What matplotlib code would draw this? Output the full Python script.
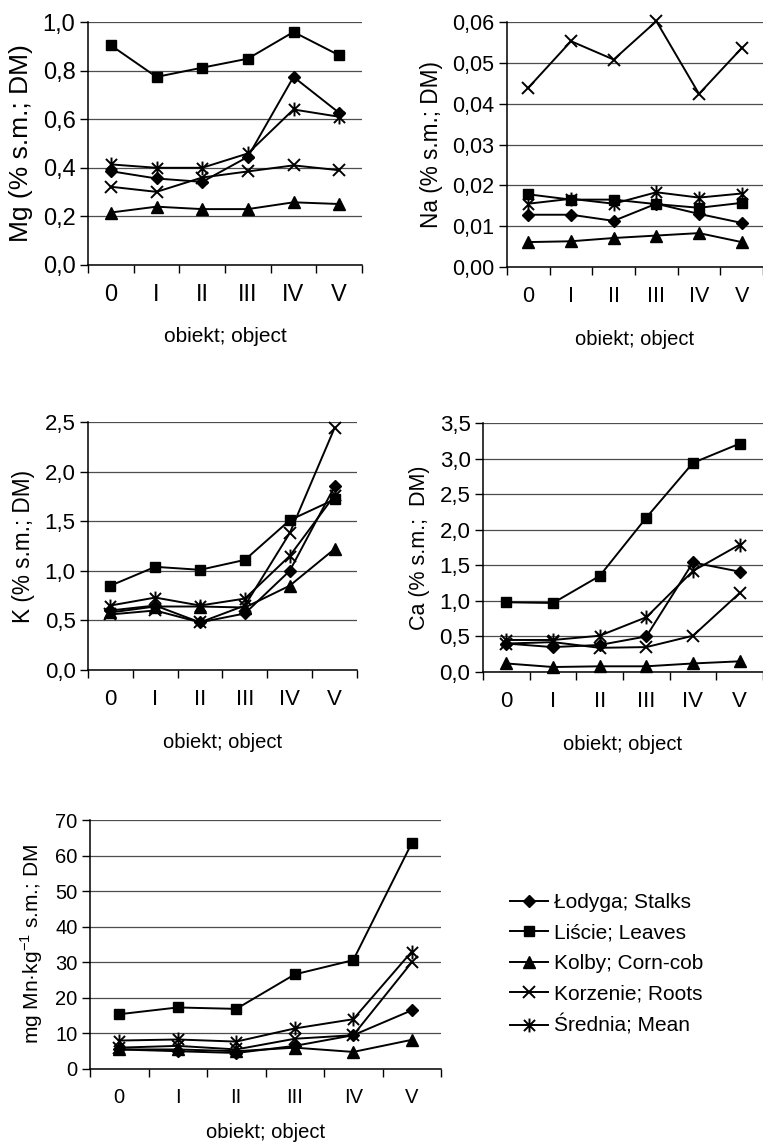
import numpy as np
import matplotlib
matplotlib.use("Agg")
import matplotlib.pyplot as plt
from matplotlib.path import Path
from matplotlib.ticker import FuncFormatter

plt.rcParams["font.family"] = ["Liberation Sans", "DejaVu Sans"]
plt.rcParams["mathtext.fontset"] = "custom"
plt.rcParams["mathtext.rm"] = "Liberation Sans"

objects = ["0", "I", "II", "III", "IV", "V"]
names = ["Łodyga; Stalks", "Liście; Leaves", "Kolby; Corn-cob",
         "Korzenie; Roots", "Średnia; Mean"]

# Mg, % DM
mg_stalks = [0.386, 0.356, 0.342, 0.445, 0.774, 0.626]
mg_leaves = [0.904, 0.774, 0.812, 0.849, 0.959, 0.863]
mg_cob = [0.216, 0.240, 0.230, 0.230, 0.258, 0.251]
mg_roots = [0.322, 0.301, 0.360, 0.385, 0.410, 0.390]
mg_mean = [0.414, 0.400, 0.400, 0.459, 0.640, 0.610]

# Na, % DM
na_stalks = [0.0128, 0.0128, 0.0113, 0.0155, 0.0130, 0.0108]
na_leaves = [0.0178, 0.0165, 0.0165, 0.0154, 0.0145, 0.0157]
na_cob = [0.0061, 0.0063, 0.0071, 0.0077, 0.0083, 0.0061]
na_roots = [0.0439, 0.0553, 0.0508, 0.0602, 0.0424, 0.0536]
na_mean = [0.0155, 0.0167, 0.0155, 0.0183, 0.0170, 0.0180]

# K, % DM
k_stalks = [0.60, 0.65, 0.48, 0.57, 1.00, 1.85]
k_leaves = [0.85, 1.04, 1.01, 1.11, 1.51, 1.72]
k_cob = [0.58, 0.64, 0.64, 0.63, 0.85, 1.22]
k_roots = [0.56, 0.60, 0.48, 0.65, 1.38, 2.44]
k_mean = [0.65, 0.73, 0.65, 0.72, 1.15, 1.76]

# Ca, % DM
ca_stalks = [0.40, 0.35, 0.38, 0.50, 1.54, 1.41]
ca_leaves = [0.98, 0.97, 1.35, 2.17, 2.94, 3.21]
ca_cob = [0.12, 0.07, 0.08, 0.08, 0.12, 0.15]
ca_roots = [0.40, 0.42, 0.34, 0.35, 0.51, 1.11]
ca_mean = [0.45, 0.45, 0.51, 0.77, 1.42, 1.79]

# Mn, mg/kg DM
mn_stalks = [5.5, 5.0, 4.5, 6.5, 9.5, 16.5]
mn_leaves = [15.4, 17.3, 16.9, 26.6, 30.6, 63.5]
mn_cob = [5.5, 5.5, 5.0, 6.0, 4.8, 8.2]
mn_roots = [6.0, 6.5, 5.5, 8.5, 9.5, 30.0]
mn_mean = [8.0, 8.3, 7.7, 11.4, 14.0, 33.0]

# Excel-like asterisk: X with a vertical bar
asterisk = Path([(0, -1), (0, 1), (-0.8, -0.8), (0.8, 0.8), (-0.8, 0.8), (0.8, -0.8)],
                [Path.MOVETO, Path.LINETO] * 3)
styles = [dict(marker="D", ms=6),
          dict(marker="s", ms=7.5),
          dict(marker="^", ms=8),
          dict(marker="x", ms=9, mew=1.4),
          dict(marker=asterisk, ms=10, mew=1.4)]

W, H = 763, 1146
fig = plt.figure(figsize=(W / 100, H / 100), dpi=100)


def box(left, right, top, bottom):
    return [left / W, 1 - bottom / H, (right - left) / W, (bottom - top) / H]


def panel(rect, series, ymax, step, decimals, ylabel, tsize, lsize,
          xsize=14.5, xpad=16):
    ax = fig.add_axes(rect)
    x = np.arange(len(objects))
    lines = []
    for vals, st, nm in zip(series, styles, names):
        ln, = ax.plot(x, vals, color="black", lw=1.4, mfc="black", mec="black",
                      clip_on=False, label=nm, **st)
        lines.append(ln)
    ax.set_xlim(-0.5, 5.5)
    ax.set_ylim(0, ymax)
    ax.set_yticks(np.arange(0, ymax + step / 2, step))
    ax.yaxis.set_major_formatter(FuncFormatter(
        lambda v, p: f"{v:.{decimals}f}".replace(".", ",")))
    ax.set_xticks(x)
    ax.set_xticklabels(objects)
    ax.set_xticks(np.arange(-0.5, 6, 1), minor=True)
    ax.tick_params(axis="x", which="major", length=0, pad=14, labelsize=tsize)
    ax.tick_params(axis="x", which="minor", length=6, width=1, direction="out")
    ax.tick_params(axis="y", length=6, width=1, pad=3, labelsize=tsize)
    ax.grid(axis="y", color="0.3", lw=0.9)
    ax.set_axisbelow(True)
    for s in ["top", "right"]:
        ax.spines[s].set_visible(False)
    ax.spines["left"].set_linewidth(1.1)
    ax.spines["bottom"].set_linewidth(1.1)
    ax.set_xlabel("obiekt; object", fontsize=xsize, labelpad=xpad)
    ax.set_ylabel(ylabel, fontsize=lsize, labelpad=7)
    return lines


panel(box(88, 362, 22, 265), [mg_stalks, mg_leaves, mg_cob, mg_roots, mg_mean],
      1.0, 0.2, 1, "Mg (% s.m.; DM)", 17, 19, 15, 15)
panel(box(507, 763, 22, 267), [na_stalks, na_leaves, na_cob, na_roots, na_mean],
      0.06, 0.01, 2, "Na (% s.m.; DM)", 15.5, 16.3)
panel(box(88, 357, 422, 670), [k_stalks, k_leaves, k_cob, k_roots, k_mean],
      2.5, 0.5, 1, "K (% s.m.; DM)", 16, 16.3)
panel(box(483, 763, 423, 672), [ca_stalks, ca_leaves, ca_cob, ca_roots, ca_mean],
      3.5, 0.5, 1, "Ca (% s.m.;  DM)", 16, 15.5)
handles = panel(box(90, 441, 820, 1069), [mn_stalks, mn_leaves, mn_cob, mn_roots, mn_mean],
                70, 10, 0, "mg Mn·kg$^{-1}$ s.m.; DM", 14.5, 15, 14.5, 11)

fig.legend(handles=handles, loc="upper left", bbox_to_anchor=(510 / W, 1 - 893 / H),
           frameon=False, fontsize=15, borderpad=0, borderaxespad=0,
           handlelength=1.8, handletextpad=0.3, labelspacing=0.55)

fig.savefig("out.png", dpi=100)
